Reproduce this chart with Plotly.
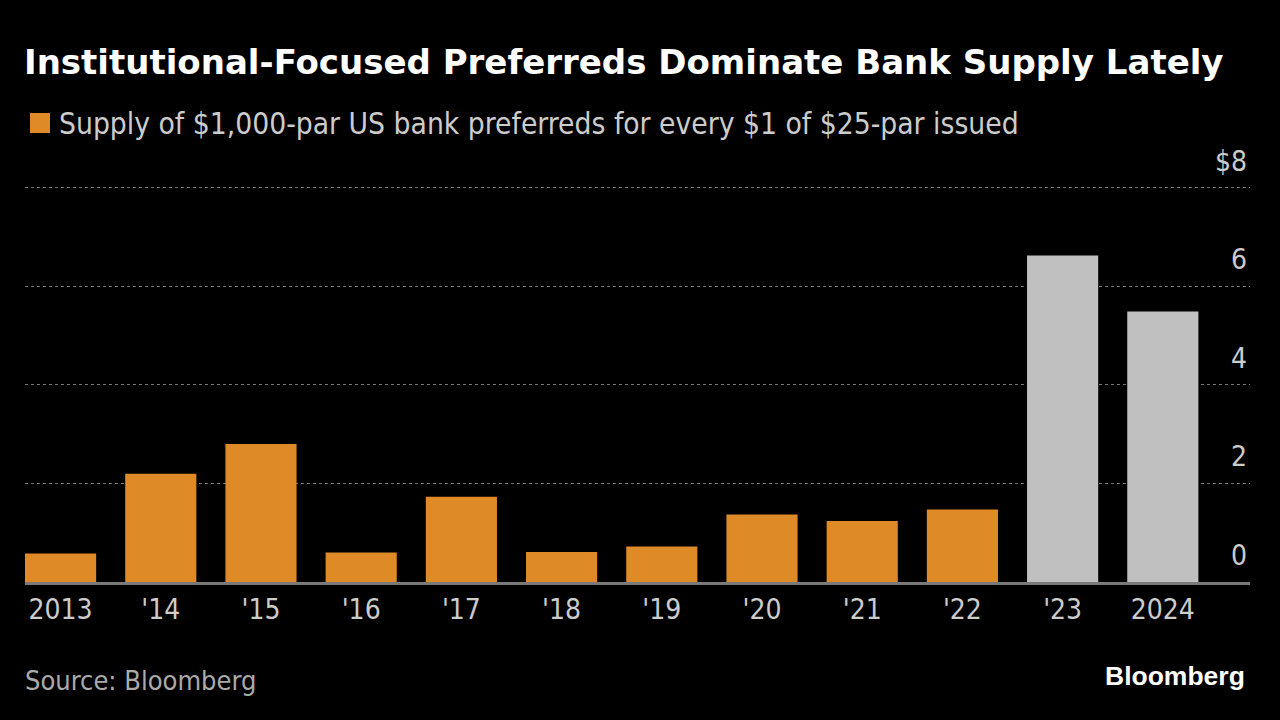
import plotly.graph_objects as go

years = ["2013", "'14", "'15", "'16", "'17", "'18", "'19", "'20", "'21", "'22", "'23", "2024"]
values = [0.58, 2.2, 2.8, 0.6, 1.73, 0.61, 0.72, 1.37, 1.24, 1.47, 6.63, 5.49]
highlight = [False] * 10 + [True, True]
y_ticks = [0, 2, 4, 6, 8]
y_labels = ["0", "2", "4", "6", "$8"]

ORANGE = "#DE8A26"
GRAY = "#C0C0C0"
NARROW = "Liberation Sans Narrow, DejaVu Sans Condensed, Liberation Sans"

colors = [GRAY if h else ORANGE for h in highlight]

W, H = 1280, 720
ML, MR, MT, MB = 25, 30, 185, 138
PW, PH = W - ML - MR, H - MT - MB


def px(x):
    return (x - ML) / PW


def py(y):
    return (H - MB - y) / PH


fig = go.Figure()
fig.add_trace(go.Bar(x=years, y=values, marker=dict(color=colors, line=dict(width=0)),
                     showlegend=False))

fig.update_layout(
    width=W, height=H,
    paper_bgcolor="#000000", plot_bgcolor="#000000",
    margin=dict(l=ML, r=MR, t=MT, b=MB),
    bargap=0.29,
    font=dict(family=NARROW, color="#cccccc"),
    xaxis=dict(type="category", range=[-0.355, 11.87], showgrid=False,
               showline=True, linecolor="#7a7a7a", linewidth=3,
               ticks="", tickfont=dict(size=28, color="#cccccc", family=NARROW)),
    yaxis=dict(range=[0, 8.06], tickvals=y_ticks, ticktext=y_labels, side="right",
               ticklabelposition="inside", ticklabelshift=-27, ticks="",
               ticklabeloverflow="allow",
               showgrid=True, gridcolor="#777777", griddash="dot", gridwidth=1.2,
               zeroline=False, showline=False,
               tickfont=dict(size=28, color="#cccccc", family=NARROW)),
    shapes=[dict(type="rect", xref="paper", yref="paper",
                 x0=px(30), x1=px(50), y0=py(133), y1=py(113),
                 fillcolor=ORANGE, line=dict(width=0))],
    annotations=[
        dict(text="<b>Institutional-Focused Preferreds Dominate Bank Supply Lately</b>",
             x=px(22), y=py(62), xref="paper", yref="paper", showarrow=False,
             xanchor="left", yanchor="middle",
             font=dict(size=34, color="#ffffff", family="DejaVu Sans")),
        dict(text="Supply of $1,000-par US bank preferreds for every $1 of $25-par issued",
             x=px(57), y=py(123), xref="paper", yref="paper", showarrow=False,
             xanchor="left", yanchor="middle",
             font=dict(size=29.7, color="#cccccc", family=NARROW)),
        dict(text="Source: Bloomberg", x=px(23), y=py(680), xref="paper", yref="paper",
             showarrow=False, xanchor="left", yanchor="middle",
             font=dict(size=27, color="#aaaaaa", family=NARROW)),
        dict(text="<b>Bloomberg</b>", x=px(1247), y=py(676), xref="paper", yref="paper",
             showarrow=False, xanchor="right", yanchor="middle",
             font=dict(size=26.5, color="#ffffff", family="Liberation Sans")),
    ],
)

fig.write_html("out.html", config={"displayModeBar": False},
               post_script="document.body.style.margin='0';document.body.style.background='#000';")
